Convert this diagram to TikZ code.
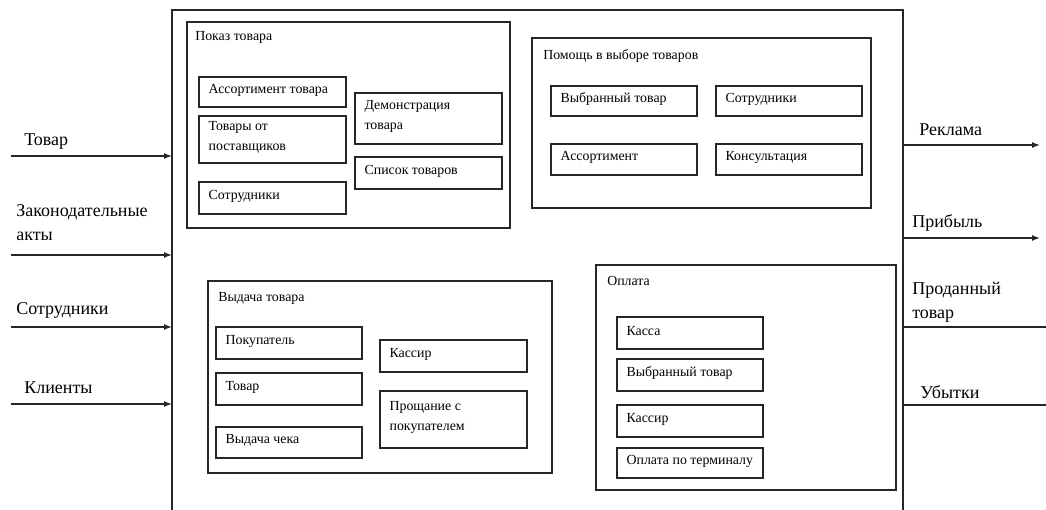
\documentclass[tikz,border=0pt]{standalone}
\usepackage{fontspec}
\setmainfont{Liberation Serif}
\newfontfamily\lserif{Liberation Serif}
\usetikzlibrary{arrows.meta}
\newcommand\gbox[5]{%
  \node[grp, minimum width={(#4-#2)*0.75pt}, minimum height={(#5-#3)*0.75pt}] (#1) at (#2,#3) {};}
\newcommand\ibox[6]{%
  \node[ibx, minimum width={(#4-#2)*0.75pt}, minimum height={(#5-#3)*0.75pt}] (#1) at (#2,#3) {};
  \node[itxt] (#1t) at ([xshift=7pt,yshift=1.5pt]#1.west) {#6};}
\begin{document}
\begin{tikzpicture}[x=0.75pt,y=-0.75pt,
  grp/.style={draw=black!85, line width=1.1pt, anchor=north west, inner sep=0pt, outer sep=0pt},
  ibx/.style={draw=black!85, line width=1.1pt, anchor=north west, inner sep=0pt, outer sep=0pt},
  itxt/.style={anchor=west, inner sep=0pt, align=left, font=\lserif\fontsize{10.4}{14.5}\selectfont},
  ttl/.style={anchor=west, inner sep=0pt, font=\lserif\fontsize{10.4}{14.5}\selectfont},
  big/.style={anchor=west, inner sep=0pt, align=left, font=\lserif\fontsize{13.5}{18}\selectfont},
  frame/.style={draw=black!85, line width=1.1pt},
  arr/.style={draw=black!85, line width=1.1pt, -{Latex[length=6pt,width=4.5pt]}},
  ln/.style={draw=black!85, line width=1.1pt}]
\useasboundingbox (0,0) rectangle (1046,510);

% main frame
\node[minimum width={(903-172)*0.75pt}, minimum height={(525-10)*0.75pt}, anchor=north west, inner sep=0pt, outer sep=0pt] (main) at (172,10) {};
\draw[frame] (main.south west) |- (main.north east) -- (main.south east);

% left inputs
\coordinate (l1) at (11,156);
\coordinate (l2) at (11,255);
\coordinate (l3) at (11,327);
\coordinate (l4) at (11,404);
\draw[arr] (l1) -- (l1 -| main.west);
\draw[arr] (l2) -- (l2 -| main.west);
\draw[arr] (l3) -- (l3 -| main.west);
\draw[arr] (l4) -- (l4 -| main.west);
\node[big] (lt1) at (24,142) {Товар};
\node[big] (lt2) at (16,223) {Законодательные\\акты};
\node[big] (lt3) at (16,310) {Сотрудники};
\node[big] (lt4) at (24,388) {Клиенты};

% right outputs
\coordinate (r1) at (1040,145);
\coordinate (r2) at (1040,238);
\coordinate (r3) at (1048,327);
\coordinate (r4) at (1048,405);
\draw[arr] (r1 -| main.east) -- (r1);
\draw[arr] (r2 -| main.east) -- (r2);
\draw[ln] (r3 -| main.east) -- (r3);
\draw[ln] (r4 -| main.east) -- (r4);
\node[big] (rt1) at (919,130) {Реклама};
\node[big] (rt2) at (912,223) {Прибыль};
\node[big] (rt3) at (912,302) {Проданный\\товар};
\node[big] (rt4) at (920,392) {Убытки};

% Показ товара
\gbox{g1}{187}{22}{510}{228}
\node[ttl] (g1t) at (195,37) {Показ товара};
\ibox{a1}{199}{77}{346}{107}{Ассортимент товара}
\ibox{a2}{199}{116}{346}{163}{Товары от\\поставщиков}
\ibox{a3}{199}{182}{346}{214}{Сотрудники}
\ibox{a4}{355}{93}{502}{144}{Демонстрация\\товара}
\ibox{a5}{355}{157}{502}{189}{Список товаров}

% Помощь в выборе товаров
\gbox{g2}{532}{38}{871}{208}
\node[ttl] (g2t) at (543,56) {Помощь в выборе товаров};
\ibox{b1}{551}{86}{697}{116}{Выбранный товар}
\ibox{b2}{716}{86}{862}{116}{Сотрудники}
\ibox{b3}{551}{144}{697}{175}{Ассортимент}
\ibox{b4}{716}{144}{862}{175}{Консультация}

% Выдача товара
\gbox{g3}{208}{281}{552}{473}
\node[ttl] (g3t) at (218,298) {Выдача товара};
\ibox{c1}{216}{327}{362}{359}{Покупатель}
\ibox{c2}{216}{373}{362}{405}{Товар}
\ibox{c3}{216}{427}{362}{458}{Выдача чека}
\ibox{c4}{380}{340}{527}{372}{Кассир}
\ibox{c5}{380}{391}{527}{448}{Прощание с\\покупателем}

% Оплата
\gbox{g4}{596}{265}{896}{490}
\node[ttl] (g4t) at (607,281) {Оплата};
\ibox{d1}{617}{317}{763}{349}{Касса}
\ibox{d2}{617}{359}{763}{391}{Выбранный товар}
\ibox{d3}{617}{405}{763}{437}{Кассир}
\ibox{d4}{617}{448}{763}{478}{Оплата по терминалу}
\end{tikzpicture}
\end{document}
